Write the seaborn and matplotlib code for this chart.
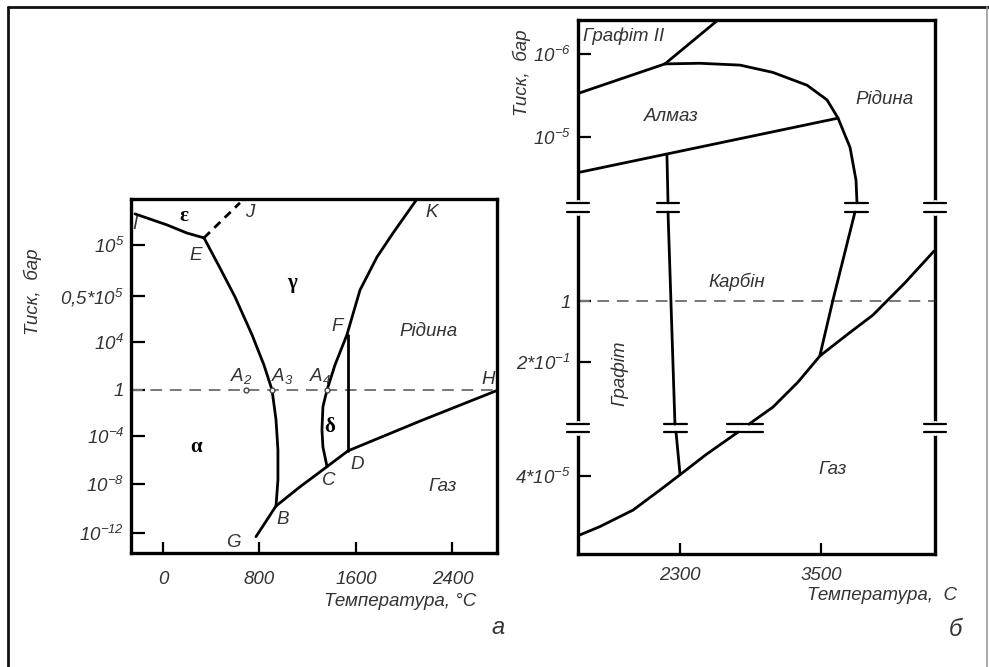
import matplotlib.pyplot as plt
import seaborn as sns
from matplotlib.lines import Line2D

# ---- panel a: iron phase diagram (schematic pressure levels) ----
a_xticks = [0, 800, 1600, 2400]
a_yticks = [3.02, 1.96, 1.0, 0.0, -0.96, -1.96, -2.98]
a_ylabels = ["10$^{5}$", "0,5*10$^{5}$", "10$^{4}$", "1", "10$^{-4}$", "10$^{-8}$", "10$^{-12}$"]

ie_t = [-232, 33, 199, 340]
ie_p = [3.67, 3.44, 3.27, 3.17]
ej_t = [340, 638]
ej_p = [3.17, 3.90]
eb_t = [340, 473, 597, 738, 837, 904, 937, 953, 953, 937]
eb_p = [3.17, 2.54, 1.94, 1.15, 0.52, 0.0, -0.62, -1.25, -1.88, -2.42]
gh_t = [771, 937, 1136, 1360, 1534, 2131, 2761]
gh_p = [-3.06, -2.42, -2.02, -1.60, -1.27, -0.65, -0.02]
ck_t = [1360, 1326, 1318, 1326, 1360, 1426, 1525, 1633, 1774, 1907, 2106]
ck_p = [-1.60, -1.19, -0.83, -0.35, 0.0, 0.52, 1.15, 2.08, 2.77, 3.27, 3.98]
fd_t = [1530, 1530]
fd_p = [1.15, -1.27]
a_points_t = [688, 904, 1360]

# ---- panel b: carbon phase diagram ----
b_xticks = [2300, 3500]
b_yticks = [4.05, 2.69, 0.0, -1.0, -2.87]
b_ylabels = ["10$^{-6}$", "10$^{-5}$", "1", "2*10$^{-1}$", "4*10$^{-5}$"]

g2d_t = [1440, 2172]
g2d_p = [3.41, 3.89]
g2l_t = [2172, 2623]
g2l_p = [3.89, 4.61]
dl_t = [2172, 2470, 2811, 3091, 3381, 3551, 3645, 3747, 3798, 3806]
dl_p = [3.89, 3.90, 3.87, 3.75, 3.54, 3.30, 3.00, 2.52, 1.98, 1.61]
dg_t = [1440, 3645]
dg_p = [2.11, 3.00]
gc1_t = [2189, 2198]
gc1_p = [2.39, 1.61]
gc2_t = [2198, 2257]
gc2_p = [1.46, -2.02]
gc3_t = [2266, 2300]
gc3_p = [-2.15, -2.84]
lc_t = [3789, 3602, 3491]
lc_p = [1.46, 0.02, -0.89]
gas1_t = [1432, 1619, 1900, 2130, 2300, 2521, 2794]
gas1_p = [-3.85, -3.70, -3.43, -3.10, -2.85, -2.52, -2.15]
gas2_t = [2887, 3091, 3304, 3491, 3730, 3942, 4215, 4462]
gas2_p = [-2.02, -1.74, -1.33, -0.90, -0.54, -0.23, 0.30, 0.82]

W, H = 989, 667
TXT = "#333333"
LW = 2.0
FS = 13.5


def fx(px):
    return px / W


def fy(py):
    return 1 - py / H


def curve(ax, t, p, **kw):
    kw.setdefault("color", "black")
    kw.setdefault("linewidth", LW)
    sns.lineplot(x=t, y=p, sort=False, estimator=None, ax=ax, **kw)


def style_axes(ax):
    for s in ax.spines.values():
        s.set_linewidth(2.4)
        s.set_color("black")
    ax.tick_params(direction="in", width=1.6, colors="black", labelcolor=TXT,
                   labelsize=FS, left=True, bottom=True)
    for lab in ax.get_xticklabels() + ax.get_yticklabels():
        lab.set_fontstyle("italic")


sns.set_theme(style="white")
plt.rcParams["font.family"] = ["Liberation Sans", "DejaVu Sans"]
plt.rcParams["font.style"] = "italic"
plt.rcParams["mathtext.fontset"] = "custom"
plt.rcParams["mathtext.rm"] = "Liberation Sans:italic"
plt.rcParams["mathtext.it"] = "Liberation Sans:italic"

fig = plt.figure(figsize=(W / 100, H / 100), dpi=100)

# ================= panel a =================
ax1 = fig.add_axes([fx(131), fy(553), fx(497 - 131), (553 - 199) / H])
for t, p in [(ie_t, ie_p), (eb_t, eb_p), (gh_t, gh_p), (ck_t, ck_p), (fd_t, fd_p)]:
    curve(ax1, t, p)
curve(ax1, ej_t, ej_p, linestyle=(0, (3, 2.2)))
ax1.axhline(0, color="#777777", lw=1.4, dashes=(6, 4), zorder=1)
ax1.plot(a_points_t, [0] * len(a_points_t), "o", ms=3.5, mfc="white", mec="#444444",
         mew=1, zorder=4)
ax1.set_xlim(-265, 2769)
ax1.set_ylim(-3.40, 3.98)
ax1.set_xticks(a_xticks)
ax1.set_xticklabels([str(v) for v in a_xticks])
ax1.set_yticks(a_yticks)
ax1.set_yticklabels(a_ylabels)
style_axes(ax1)
ax1.tick_params(axis="y", length=10, pad=5)
ax1.tick_params(axis="x", length=8, pad=13)
ax1.set_xlabel("")
ax1.set_ylabel("")

a_labels = [("I", -232, 3.44), ("J", 721, 3.69), ("E", 274, 2.81), ("K", 2230, 3.69),
            ("F", 1442, 1.33), ("Рідина", 2197, 1.21), ("A$_2$", 650, 0.29),
            ("A$_3$", 986, 0.29), ("A$_4$", 1301, 0.29), ("H", 2694, 0.21),
            ("C", 1376, -1.88), ("D", 1608, -1.56), ("Газ", 2321, -2.02),
            ("B", 995, -2.71), ("G", 580, -3.19)]
for s, x, y in a_labels:
    ax1.text(x, y, s, ha="center", va="center", fontsize=FS, color=TXT,
             style="italic")
for s, x, y in [("ε", 174, 3.63), ("γ", 1069, 2.23), ("δ", 1384, -0.77),
                ("α", 274, -1.19)]:
    ax1.text(x, y, s, ha="center", va="center", fontsize=15, color="black",
             fontweight="bold", style="normal", family="Liberation Serif")

# ================= panel b =================
ax2 = fig.add_axes([fx(578), fy(554), fx(935 - 578), (554 - 20) / H])
for t, p in [(g2d_t, g2d_p), (g2l_t, g2l_p), (dl_t, dl_p), (dg_t, dg_p),
             (gc1_t, gc1_p), (gc2_t, gc2_p), (gc3_t, gc3_p), (lc_t, lc_p),
             (gas1_t, gas1_p), (gas2_t, gas2_p)]:
    curve(ax2, t, p)
ax2.axhline(0, color="#777777", lw=1.4, dashes=(6, 4), zorder=1)
ax2.set_xlim(1432, 4470)
ax2.set_ylim(-4.15, 4.61)
ax2.set_xticks(b_xticks)
ax2.set_xticklabels([str(v) for v in b_xticks])
ax2.set_yticks(b_yticks)
ax2.set_yticklabels(b_ylabels)
style_axes(ax2)
ax2.tick_params(axis="y", length=9, pad=5)
ax2.tick_params(axis="x", length=8, pad=9)
ax2.set_xlabel("")
ax2.set_ylabel("")

# axis-break marks (pairs of short bars)
hi, lo = 1.61, 1.46
hi2, lo2 = -2.02, -2.15
half = 94
for x, gap in [(1432, True), (4470, True), (2198, False), (3802, False)]:
    if gap:
        ax2.plot([x, x], [lo, hi], color="white", lw=5, clip_on=False, zorder=5)
    for y in (hi, lo):
        ax2.plot([x - half, x + half], [y, y], color="black", lw=1.6,
                 clip_on=False, zorder=6)
for x, gap in [(1432, True), (4470, True), (2262, False)]:
    if gap:
        ax2.plot([x, x], [lo2, hi2], color="white", lw=5, clip_on=False, zorder=5)
    for y in (hi2, lo2):
        ax2.plot([x - half, x + half], [y, y], color="black", lw=1.6,
                 clip_on=False, zorder=6)
for y in (hi2, lo2):
    ax2.plot([2700, 3006], [y, y], color="black", lw=1.6, zorder=6)

b_labels = [("Алмаз", 2223, 3.03), ("Рідина", 4036, 3.30), ("Карбін", 2785, 0.31),
            ("Газ", 3602, -2.77)]
for s, x, y in b_labels:
    ax2.text(x, y, s, ha="center", va="center", fontsize=FS, color=TXT)
ax2.text(1475, 4.34, "Графіт II", ha="left", va="center", fontsize=FS, color=TXT)
ax2.text(1789, -1.18, "Графіт", ha="center", va="center", fontsize=FS, color=TXT,
         rotation=90)

# ---- labels outside the axes ----
fig.text(fx(33), fy(292), "Тиск,  бар", rotation=90, ha="center", va="center",
         fontsize=FS, color=TXT)
fig.text(fx(522), fy(73), "Тиск,  бар", rotation=90, ha="center", va="center",
         fontsize=FS, color=TXT)
fig.text(fx(400), fy(602), "Температура, °C", ha="center", va="center",
         fontsize=FS, color=TXT)
fig.text(fx(882), fy(596), "Температура,  C", ha="center", va="center",
         fontsize=FS, color=TXT)
fig.text(fx(498), fy(627), "а", ha="center", va="center", fontsize=17, color=TXT)
fig.text(fx(955), fy(629), "б", ha="center", va="center", fontsize=17, color=TXT)

# outer frame
fig.add_artist(Line2D([fx(8), fx(989)], [fy(7), fy(7)], color="#111111", lw=2))
fig.add_artist(Line2D([fx(8), fx(8)], [fy(7), 0], color="#111111", lw=2))
fig.add_artist(Line2D([fx(987), fx(987)], [fy(7), 0], color="#999999", lw=1.2))

fig.savefig("out.png", dpi=100)
